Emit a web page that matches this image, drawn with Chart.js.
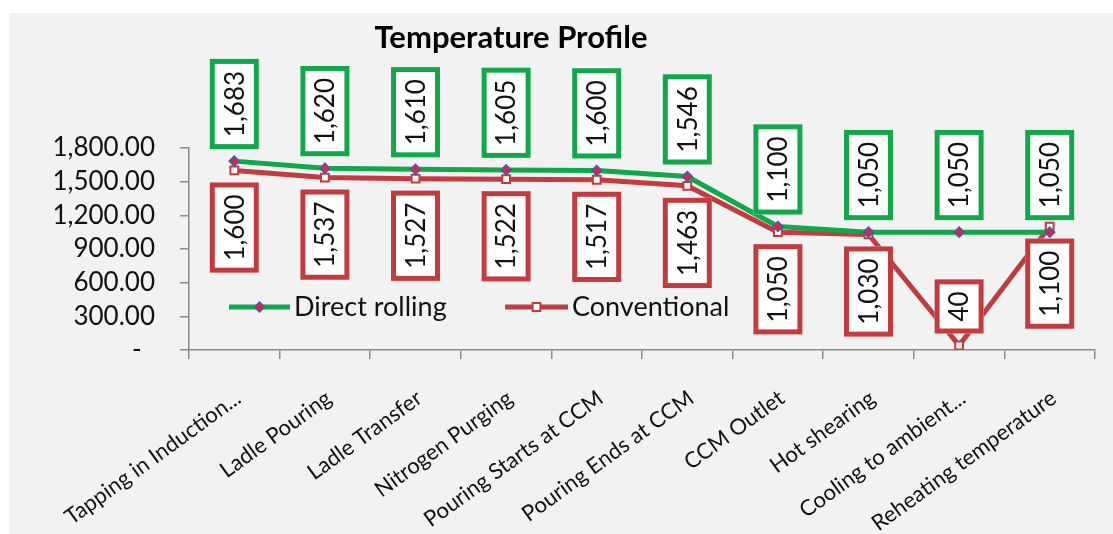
<!DOCTYPE html>
<html>
<head>
<meta charset="utf-8">
<script src="https://cdn.jsdelivr.net/npm/chart.js@4.4.1/dist/chart.umd.min.js"></script>
<style>
  html, body { margin: 0; padding: 0; background: #fff; }
  #wrap { width: 1113px; height: 534px; }
</style>
</head>
<body>
<div id="wrap"><canvas id="tempChart"></canvas></div>
<script>
const stages = [
    'Tapping in Induction...', 'Ladle Pouring', 'Ladle Transfer', 'Nitrogen Purging',
    'Pouring Starts at CCM', 'Pouring Ends at CCM', 'CCM Outlet', 'Hot shearing',
    'Cooling to ambient...', 'Reheating temperature'
];
const directRolling = [1683, 1620, 1610, 1605, 1600, 1546, 1100, 1050, 1050, 1050];
const conventional = [1600, 1537, 1527, 1522, 1517, 1463, 1050, 1030, 40, 1100];
const yMin = 0, yMax = 1800, yStep = 300;

const GREEN = '#12a84a';
const RED = '#c23b3e';
const FONT = 'Lato, "Open Sans", sans-serif';

// grey panel behind the chart + title
const panelPlugin = {
    id: 'panel',
    beforeDraw(chart) {
        const ctx = chart.ctx;
        ctx.save();
        ctx.fillStyle = '#f2f2f2';
        ctx.fillRect(9, 13, chart.width - 9, chart.height - 13);
        ctx.fillStyle = '#000';
        ctx.font = 'bold 31px ' + FONT;
        ctx.textAlign = 'center';
        ctx.textBaseline = 'alphabetic';
        ctx.fillText('Temperature Profile', 511, 48);
        ctx.restore();
    }
};

// boxed, rotated value labels + legend drawn inside the plot
const labelPlugin = {
    id: 'valueBoxes',
    afterDatasetsDraw(chart) {
        const ctx = chart.ctx;
        const bottom = chart.chartArea.bottom;
        ctx.save();
        chart.data.datasets.forEach((ds, di) => {
            const meta = chart.getDatasetMeta(di);
            meta.data.forEach((pt, i) => {
                const text = ds.data[i].toLocaleString('en-US');
                ctx.font = '26px ' + FONT;
                const tw = ctx.measureText(text).width;
                const boxH = tw + 24;
                const boxW = 49;
                const gap = 12;
                let above = ds.labelSide === 'above';
                if (!above && pt.y + gap + boxH > bottom) above = true;
                const y0 = above ? pt.y - gap - boxH : pt.y + gap;
                const x0 = pt.x - boxW / 2;
                ctx.fillStyle = '#fff';
                ctx.fillRect(x0, y0, boxW, boxH);
                ctx.lineWidth = 5;
                ctx.strokeStyle = ds.borderColor;
                ctx.strokeRect(x0 + 2.5, y0 + 2.5, boxW - 5, boxH - 5);
                ctx.save();
                ctx.translate(pt.x, y0 + boxH / 2);
                ctx.rotate(-Math.PI / 2);
                ctx.fillStyle = '#111';
                ctx.textAlign = 'center';
                ctx.textBaseline = 'middle';
                ctx.fillText(text, 0, 1);
                ctx.restore();
            });
        });

        // legend
        const legendY = 307;
        const items = [
            { ds: chart.data.datasets[0], x1: 229, x2: 290 },
            { ds: chart.data.datasets[1], x1: 505, x2: 568 }
        ];
        items.forEach(it => {
            ctx.strokeStyle = it.ds.borderColor;
            ctx.lineWidth = 5;
            ctx.beginPath();
            ctx.moveTo(it.x1, legendY);
            ctx.lineTo(it.x2, legendY);
            ctx.stroke();
            ctx.fillStyle = it.ds.pointBackgroundColor;
            ctx.strokeStyle = it.ds.pointBorderColor;
            ctx.lineWidth = it.ds.pointBorderWidth;
            Chart.helpers.drawPoint(ctx, {
                pointStyle: it.ds.pointStyle,
                radius: it.ds.pointRadius,
                borderWidth: it.ds.pointBorderWidth
            }, (it.x1 + it.x2) / 2, legendY);
            ctx.fillStyle = '#111';
            ctx.font = '27px ' + FONT;
            ctx.textAlign = 'left';
            ctx.textBaseline = 'middle';
            ctx.fillText(it.ds.label, it.x2 + 4, legendY);
        });
        ctx.restore();
    }
};

const ctx = document.getElementById('tempChart').getContext('2d');
const tempChart = new Chart(ctx, {
    type: 'line',
    data: {
        labels: stages,
        datasets: [
            {
                label: 'Direct rolling',
                data: directRolling,
                borderColor: GREEN,
                borderWidth: 5,
                pointStyle: 'rectRot',
                pointRadius: 5,
                pointBackgroundColor: '#e3262d',
                pointBorderColor: '#3a5cc8',
                pointBorderWidth: 1.5,
                labelSide: 'above',
                tension: 0
            },
            {
                label: 'Conventional',
                data: conventional,
                borderColor: RED,
                borderWidth: 5,
                pointStyle: 'rect',
                pointRadius: 5.5,
                pointBackgroundColor: '#fff',
                pointBorderColor: RED,
                pointBorderWidth: 2,
                labelSide: 'below',
                tension: 0
            }
        ]
    },
    options: {
        responsive: true,
        maintainAspectRatio: false,
        animation: false,
        layout: { padding: { top: 148, right: 18, left: 0, bottom: 0 } },
        plugins: {
            legend: { display: false },
            title: { display: false },
            tooltip: { enabled: false }
        },
        scales: {
            x: {
                offset: true,
                grid: { offset: true, drawOnChartArea: false, tickLength: 9, color: '#8a8a8a', lineWidth: 1.5 },
                border: { color: '#8a8a8a', width: 1.5 },
                ticks: {
                    autoSkip: false,
                    maxRotation: 36,
                    minRotation: 36,
                    padding: 26,
                    labelOffset: 4,
                    color: '#111',
                    font: { family: FONT, size: 22 }
                },
                afterFit(scale) { scale.height = 184; }
            },
            y: {
                min: yMin,
                max: yMax,
                grid: { drawOnChartArea: false, tickLength: 9, color: '#8a8a8a', lineWidth: 1.5 },
                border: { color: '#8a8a8a', width: 1.5 },
                ticks: {
                    autoSkip: false,
                    stepSize: yStep,
                    padding: 25,
                    color: '#111',
                    font: { family: FONT, size: 26, lineHeight: 1 },
                    callback: v => v === 0 ? '-  ' : v.toLocaleString('en-US', { minimumFractionDigits: 2, maximumFractionDigits: 2 })
                },
                afterFit(scale) { scale.width = 189; }
            }
        }
    },
    plugins: [panelPlugin, labelPlugin]
});
</script>
</body>
</html>
